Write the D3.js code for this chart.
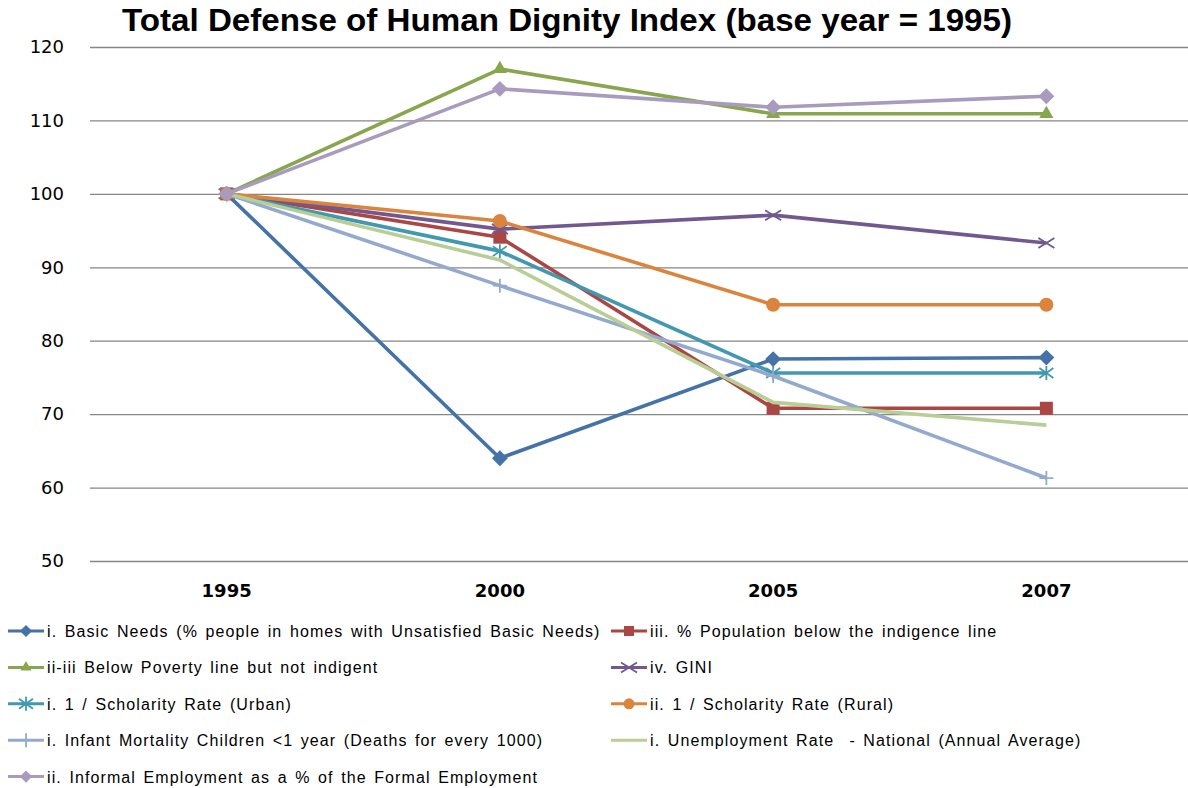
<!DOCTYPE html>
<meta charset="utf-8">
<style>
  body {margin: 0; background: #fff;}
  text {font-family: 'Open Sans', sans-serif;}
</style>
<body>
<svg width="1188" height="788"></svg>
<script src="https://d3js.org/d3.v7.min.js"></script>
<script>

var years = ["1995", "2000", "2005", "2007"];

var seriesNames = [
  "i. Basic Needs (% people in homes with Unsatisfied Basic Needs)",
  "iii. % Population below the indigence line",
  "ii-iii Below Poverty line but not indigent",
  "iv. GINI",
  "i. 1 / Scholarity Rate (Urban)",
  "ii. 1 / Scholarity Rate (Rural)",
  "i. Infant Mortality Children <1 year (Deaths for every 1000)",
  "i. Unemployment Rate  - National (Annual Average)",
  "ii. Informal Employment as a % of the Formal Employment"
];

var basicNeeds   = [100, 64.0, 77.5, 77.7];
var indigence    = [100, 94.1, 70.8, 70.8];
var belowPoverty = [100, 117.0, 110.9, 110.9];
var gini         = [100, 95.2, 97.1, 93.3];
var schoolUrban  = [100, 92.2, 75.6, 75.6];
var schoolRural  = [100, 96.3, 84.9, 84.9];
var infantMort   = [100, 87.5, 75.2, 61.3];
var unemployment = [100, 91.0, 71.6, 68.5];
var informalEmp  = [100, 114.3, 111.8, 113.3];

var yTicks = [50, 60, 70, 80, 90, 100, 110, 120];

var colors  = ["#4572A7", "#AA4643", "#89A54E", "#71588F", "#4198AF", "#DB843D", "#93A9CF", "#B9CD96", "#A99BBD"];
var symbols = ["diamond", "square", "triangle", "x", "star", "circle", "plus", "none", "diamond"];

var allValues = [basicNeeds, indigence, belowPoverty, gini, schoolUrban, schoolRural, infantMort, unemployment, informalEmp];

var series = seriesNames.map(function(n, i) {
  return {name: n, color: colors[i], symbol: symbols[i],
          values: years.map(function(y, j) { return {year: y, value: allValues[i][j]}; })};
});

var svg = d3.select("svg");

var x = d3.scaleBand().domain(years).range([90, 1183]);
var y = d3.scaleLinear().domain([50, 120]).range([561, 47]);

// title
svg.append("text")
    .attr("x", 567).attr("y", 31)
    .attr("text-anchor", "middle")
    .style("font-family", "'Liberation Sans', Arial, sans-serif")
    .style("font-weight", "bold")
    .style("font-size", "31px")
    .attr("textLength", 890)
    .attr("lengthAdjust", "spacingAndGlyphs")
    .text("Total Defense of Human Dignity Index (base year = 1995)");

// gridlines + y labels
var yAxis = svg.append("g")
    .attr("transform", "translate(90,0)")
    .call(d3.axisLeft(y).tickValues(yTicks).tickSize(-1098).tickPadding(26));
yAxis.select(".domain").remove();
yAxis.selectAll(".tick line").attr("stroke", "#868686").attr("stroke-width", 1.3);
yAxis.selectAll(".tick text")
    .style("font-family", "'DejaVu Sans', sans-serif")
    .style("font-size", "18px")
    .attr("fill", "#000");

// x labels
var xAxis = svg.append("g")
    .attr("transform", "translate(0,561)")
    .call(d3.axisBottom(x).tickSize(0).tickPadding(23));
xAxis.select(".domain").remove();
xAxis.selectAll(".tick text")
    .style("font-family", "'DejaVu Sans', sans-serif")
    .style("font-weight", "bold")
    .style("font-size", "18px")
    .attr("fill", "#000");

var line = d3.line()
    .x(function(d) { return x(d.year) + x.bandwidth() / 2; })
    .y(function(d) { return y(d.value); });

function drawMarker(g, sym, color, size) {
  var s = size;
  if (sym === "diamond") {
    g.append("path").attr("d", d3.symbol(d3.symbolDiamond2, s * s * 0.95)()).attr("fill", color);
  } else if (sym === "square") {
    g.append("rect").attr("x", -s / 2).attr("y", -s / 2).attr("width", s).attr("height", s).attr("fill", color);
  } else if (sym === "triangle") {
    g.append("path").attr("d", d3.symbol(d3.symbolTriangle2, s * s * 0.85)()).attr("fill", color);
  } else if (sym === "circle") {
    g.append("circle").attr("r", s / 2 + 0.5).attr("fill", color);
  } else if (sym === "x") {
    g.append("path").attr("d", "M-8,-5L8,5M-8,5L8,-5").attr("stroke", color).attr("stroke-width", 1.8);
  } else if (sym === "star") {
    g.append("path").attr("d", "M-7,-5L7,5M-7,5L7,-5M0,-7V7").attr("stroke", color).attr("stroke-width", 1.8);
  } else if (sym === "plus") {
    g.append("path").attr("d", "M-7,0H7M0,-7V7").attr("stroke", color).attr("stroke-width", 1.8);
  }
}

var plot = svg.append("g");
series.forEach(function(s) {
  var g = plot.append("g");
  g.append("path")
      .datum(s.values)
      .attr("fill", "none")
      .attr("stroke", s.color)
      .attr("stroke-width", 3.6)
      .attr("stroke-linejoin", "round")
      .attr("d", line);
  s.values.forEach(function(d) {
    var m = g.append("g")
        .attr("transform", "translate(" + (x(d.year) + x.bandwidth() / 2) + "," + y(d.value) + ")");
    drawMarker(m, s.symbol, s.color, 13);
  });
});

// legend
var legend = svg.append("g");
series.forEach(function(s, i) {
  var col = i % 2, row = Math.floor(i / 2);
  var lx = col === 0 ? 8 : 611, ly = 631 + row * 36.4;
  var g = legend.append("g").attr("transform", "translate(" + lx + "," + ly + ")");
  g.append("line").attr("x1", 0).attr("x2", 36).attr("stroke", s.color).attr("stroke-width", 3);
  var m = g.append("g").attr("transform", "translate(18,0)");
  drawMarker(m, s.symbol, s.color, 10);
  g.append("text")
      .attr("x", 39).attr("y", 6)
      .style("font-family", "'Liberation Sans', Arial, sans-serif")
      .style("font-size", "16px")
      .style("letter-spacing", "1.1px")
      .style("word-spacing", "2px")
      .style("white-space", "pre")
      .attr("fill", "#000")
      .text(s.name);
});

</script>
</body>
